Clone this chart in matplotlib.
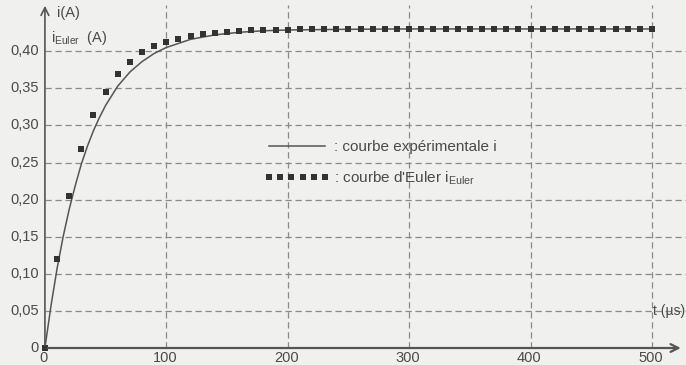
import matplotlib
matplotlib.use("Agg")
import matplotlib.pyplot as plt
from matplotlib.lines import Line2D

plt.rcParams['font.family'] = ['Liberation Sans', 'DejaVu Sans']
plt.rcParams['mathtext.fontset'] = 'custom'
plt.rcParams['mathtext.rm'] = 'Liberation Sans'
plt.rcParams['mathtext.default'] = 'regular'

# Experimental curve i(t)
t_exp = [0, 5, 10, 15, 20, 25, 30, 35, 40, 45, 50, 60, 70, 80, 90, 100, 120, 140,
         160, 180, 200, 250, 300, 400, 500]
i_exp = [0, 0.057, 0.107, 0.150, 0.187, 0.219, 0.248, 0.272, 0.293, 0.311, 0.327,
         0.353, 0.372, 0.386, 0.397, 0.405, 0.416, 0.422, 0.4255, 0.4275, 0.4286,
         0.4295, 0.43, 0.43, 0.43]

# Euler points (step 10 µs)
t_euler = list(range(0, 510, 10))
i_euler = [0, 0.120, 0.205, 0.268, 0.314, 0.345, 0.369, 0.386, 0.399, 0.407,
           0.413, 0.417, 0.421, 0.423, 0.425, 0.426, 0.427, 0.428, 0.428, 0.429,
           0.429] + [0.43] * 30

x_ticks = [0, 100, 200, 300, 400, 500]
y_ticks = [0, 0.05, 0.10, 0.15, 0.20, 0.25, 0.30, 0.35, 0.40]
y_labels = ['0', '0,05', '0,10', '0,15', '0,20', '0,25', '0,30', '0,35', '0,40']

bg = '#f0f0ee'
txt = '#4a4a4a'
grid_c = '#8a8a8a'

fig = plt.figure(figsize=(6.86, 3.65), dpi=100, facecolor=bg)
ax = fig.add_axes([0, 0, 1, 1], facecolor=bg)
xmin, xmax = -37, 528
ymin, ymax = -0.0229, 0.469
ax.set_xlim(xmin, xmax)
ax.set_ylim(ymin, ymax)
ax.set_axis_off()

# grid
ax.hlines(y_ticks[1:], 0, xmax, colors=grid_c, linestyles=(0, (5, 3)), linewidth=0.9)
ax.vlines(x_ticks[1:], 0, 0.462, colors=grid_c, linestyles=(0, (5, 3)), linewidth=0.9)

# axes with arrows
ax.annotate('', xy=(xmax - 2, 0), xytext=(0, 0),
            arrowprops=dict(arrowstyle='->', color='#555555', lw=1.6, mutation_scale=14))
ax.annotate('', xy=(0, 0.465), xytext=(0, 0),
            arrowprops=dict(arrowstyle='->', color='#555555', lw=1.2, mutation_scale=14))

# tick labels
for v, lab in zip(y_ticks, y_labels):
    ax.text(-5, v, lab, ha='right', va='center', fontsize=10.5, color=txt)
for v in x_ticks:
    ax.text(v - 1, -0.0045, str(v), ha='center', va='top', fontsize=10.5, color=txt)

# axis titles
ax.text(10, 0.452, 'i(A)', ha='left', va='center', fontsize=10.5, color=txt)
ax.text(5, 0.418, 'i$_{Euler}$  (A)', ha='left', va='center', fontsize=10.5, color=txt)
ax.text(xmax - 1, 0.05, 't (µs)', ha='right', va='center', fontsize=10, color=txt)

# data
ax.plot(t_exp, i_exp, color='#555555', lw=1.1)
ax.plot(t_euler, i_euler, linestyle='none', marker='s', markersize=4.2,
        color='#333333', markeredgewidth=0)

handles = [Line2D([], [], color='#555555', lw=1.1),
           Line2D([], [], linestyle='none', marker='s', markersize=4.2,
                  color='#333333', markeredgewidth=0)]
labels = [': courbe expérimentale i', ": courbe d'Euler i$_{Euler}$"]
leg = fig.legend(handles, labels, loc='upper left',
                 bbox_to_anchor=(264 / 686, 1 - 140 / 365),
                 frameon=False, fontsize=11, handlelength=4.3, numpoints=6,
                 handletextpad=0.3, labelspacing=1.0, borderpad=0, borderaxespad=0)
for t in leg.get_texts():
    t.set_color(txt)

fig.savefig('out.png', dpi=100, facecolor=bg)
